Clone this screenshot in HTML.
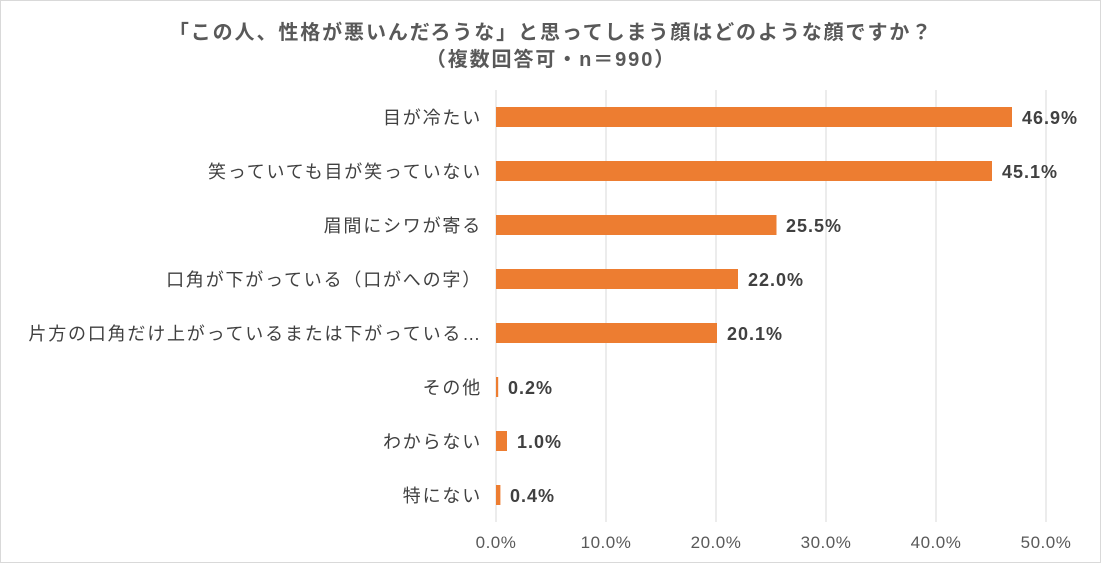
<!DOCTYPE html>
<html><head><meta charset="utf-8"><style>
body{margin:0;background:#fff}
svg text{font-family:"Liberation Sans","Noto Sans CJK JP",sans-serif}
</style></head><body>
<svg width="1101" height="563" xmlns="http://www.w3.org/2000/svg">
<rect x="0.5" y="0.5" width="1100" height="562" fill="#fff" stroke="#d9d9d9"/>
<text x="551" y="39" font-size="20" text-anchor="middle" fill="#595959" font-weight="bold" letter-spacing="1.9">「この人、性格が悪いんだろうな」と思ってしまう顔はどのような顔ですか？</text>
<text x="551" y="66" font-size="20" text-anchor="middle" fill="#595959" font-weight="bold" letter-spacing="1.9">（複数回答可・n＝990）</text>
<g stroke="#d9d9d9" stroke-width="1">
<line x1="496" y1="90" x2="496" y2="522"/><line x1="606" y1="90" x2="606" y2="522"/><line x1="716" y1="90" x2="716" y2="522"/><line x1="826" y1="90" x2="826" y2="522"/><line x1="936" y1="90" x2="936" y2="522"/><line x1="1046" y1="90" x2="1046" y2="522"/>
</g>
<g fill="#ed7d31">
<rect x="496" y="107" width="516" height="20"/>
<rect x="496" y="161" width="496" height="20"/>
<rect x="496" y="215" width="280.5" height="20"/>
<rect x="496" y="269" width="242" height="20"/>
<rect x="496" y="323" width="221" height="20"/>
<rect x="496" y="377" width="2.2" height="20"/>
<rect x="496" y="431" width="11" height="20"/>
<rect x="496" y="485" width="4.4" height="20"/>
</g>
<g font-size="18" font-weight="bold" fill="#404040" letter-spacing="1">
<text x="1022" y="124">46.9%</text>
<text x="1002" y="178">45.1%</text>
<text x="786" y="232">25.5%</text>
<text x="748" y="286">22.0%</text>
<text x="727" y="340">20.1%</text>
<text x="508" y="394">0.2%</text>
<text x="517" y="448">1.0%</text>
<text x="510" y="502">0.4%</text>
</g>
<g font-size="18" fill="#404040" text-anchor="end" letter-spacing="1.8">
<text x="482" y="124">目が冷たい</text>
<text x="482" y="178">笑っていても目が笑っていない</text>
<text x="482" y="232">眉間にシワが寄る</text>
<text x="482" y="286">口角が下がっている（口がへの字）</text>
<text x="482" y="340">片方の口角だけ上がっているまたは下がっている…</text>
<text x="482" y="394">その他</text>
<text x="482" y="448">わからない</text>
<text x="482" y="502">特にない</text>
</g>
<g font-size="17" fill="#595959" text-anchor="middle" letter-spacing="0.5">
<text x="496" y="548">0.0%</text><text x="606" y="548">10.0%</text><text x="716" y="548">20.0%</text><text x="826" y="548">30.0%</text><text x="936" y="548">40.0%</text><text x="1046" y="548">50.0%</text>
</g>
</svg>
</body></html>
